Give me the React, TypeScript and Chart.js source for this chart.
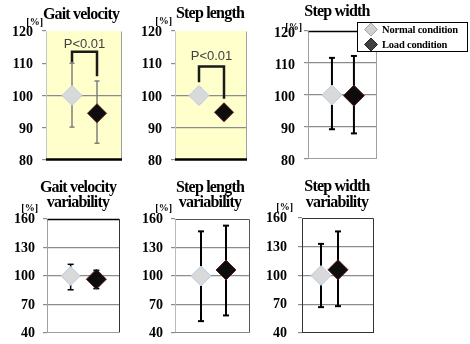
import React, { useEffect, useRef } from 'react';
import { Chart, registerables } from 'chart.js';
Chart.register(...registerables);

// ---------- data ----------
const conditionLabels = ['Normal condition', 'Load condition'];
const conditionX = [1, 2];
const panelTitles = [
  ['Gait velocity'],
  ['Step length'],
  ['Step width'],
  ['Gait velocity', 'variability'],
  ['Step length', 'variability'],
  ['Step width', 'variability'],
];
const unitLabel = '[%]';
const normalMean = [100, 100, 100, 100, 100, 100];
const normalUpper = [110, 102.2, 111.6, 112.3, 147, 133];
const normalLower = [90.2, 97.8, 89.3, 85.5, 52.5, 67];
const loadMean = [94.5, 94.8, 99.8, 96.6, 106.3, 106];
const loadUpper = [104.5, 96.3, 112.2, 106, 153, 146];
const loadLower = [85.2, 93.3, 88, 86.7, 58.5, 68];
const ticksMain = [80, 90, 100, 110, 120];
const ticksVariability = [40, 70, 100, 130, 160];
const pValueText = 'P<0.01';
const bracketTop = [113.6, 109];
const bracketLeftEnd = [110.2, 104.1];
const bracketRightEnd = [106, 99];
const pLabelValue = [115.8, 112.2];

// ---------- layout / style ----------
const W = 470;
const H = 344;
const AXIS_W = 40;
const SERIF = "'Liberation Serif', 'Times New Roman', serif";

type Frame = { top?: string; right?: string; bottom?: string; left?: string; bottomW?: number; topW?: number };
type PanelLayout = {
  area: [number, number, number, number];
  xRange: [number, number];
  titleX: number;
  titleY: number[];
  unit: [number, number];
  tickPad: number;
  labelOffset: number;
  bg?: string;
  grid: number[];
  frame: Frame;
  err: { color: string; width: number; cap: number };
  radius: [number, number];
  legend?: [number, number, number, number];
};

const LAYOUT: PanelLayout[] = [
  {
    area: [46, 31, 122, 160], xRange: [-0.04, 3.0], titleX: 81, titleY: [19], unit: [43, 22], tickPad: 9, labelOffset: 1.5,
    bg: '#FFFFCC', grid: [100],
    frame: { left: '#c8c8c8', right: '#a0a0a0', bottom: '#000000', bottomW: 2.5 },
    err: { color: '#7f7f7f', width: 1.5, cap: 2.5 }, radius: [10, 9.5],
  },
  {
    area: [175, 31, 247, 160], xRange: [0.04, 2.92], titleX: 210, titleY: [18], unit: [172, 21], tickPad: 9, labelOffset: 1.5,
    bg: '#FFFFCC', grid: [100, 90],
    frame: { left: '#c8c8c8', right: '#a0a0a0', bottom: '#000000', bottomW: 2.5 },
    err: { color: '#7f7f7f', width: 1.5, cap: 2.5 }, radius: [10, 9.5],
  },
  {
    area: [308, 31, 377, 159], xRange: [-0.09, 3.05], titleX: 337, titleY: [16], unit: [302, 27], tickPad: 9, labelOffset: 2,
    grid: [110, 100, 90],
    frame: { top: '#000000', topW: 1.5, left: '#a0a0a0', right: '#a0a0a0', bottom: '#a0a0a0' },
    err: { color: '#000000', width: 2, cap: 3 }, radius: [10, 10.5],
    legend: [357, 22, 468, 52],
  },
  {
    area: [47, 219, 120, 341], xRange: [0.08, 2.92], titleX: 78, titleY: [192, 207], unit: [38, 208], tickPad: 8, labelOffset: 0.5,
    grid: [130, 100, 70],
    frame: { top: '#000000', topW: 1.5, right: '#333333', left: '#a0a0a0', bottom: '#a0a0a0' },
    err: { color: '#000000', width: 1.5, cap: 3 }, radius: [9.5, 10],
  },
  {
    area: [175, 219, 250, 341], xRange: [-0.04, 2.96], titleX: 210, titleY: [192, 207], unit: [172, 208], tickPad: 8, labelOffset: 0.5,
    grid: [130, 100, 70],
    frame: { top: '#555555', right: '#555555', left: '#bbbbbb', bottom: '#888888' },
    err: { color: '#000000', width: 2, cap: 3 }, radius: [10, 10],
  },
  {
    area: [302, 218, 374, 341], xRange: [-0.12, 4.12], titleX: 337, titleY: [191, 207], unit: [293, 207], tickPad: 11, labelOffset: 0.5,
    grid: [130, 100, 70],
    frame: { top: '#333333', right: '#333333', left: '#333333', bottom: '#333333' },
    err: { color: '#000000', width: 2, cap: 3 }, radius: [10, 10],
  },
];

const NORMAL_FILL = '#d9d9d9';
const NORMAL_BORDER = '#b9cde5';
const LOAD_FILL = '#0d0d0d';
const LOAD_BORDER = '#5b1f1f';

const panelDecor = {
  id: 'panelDecor',
  beforeDraw(chart: any, _args: any, opts: any) {
    const { ctx, chartArea: a } = chart;
    if (opts.bg) {
      ctx.save();
      ctx.fillStyle = opts.bg;
      ctx.fillRect(a.left, a.top, a.right - a.left, a.bottom - a.top);
      ctx.restore();
    }
  },
  beforeDatasetsDraw(chart: any, _args: any, opts: any) {
    const { ctx, chartArea: a } = chart;
    const f: Frame = opts.frame || {};
    const line = (x1: number, y1: number, x2: number, y2: number, c?: string, w = 1) => {
      if (!c) return;
      ctx.save();
      ctx.strokeStyle = c;
      ctx.lineWidth = w;
      ctx.beginPath();
      ctx.moveTo(x1, y1);
      ctx.lineTo(x2, y2);
      ctx.stroke();
      ctx.restore();
    };
    const L = Math.round(a.left) + 0.5, R = Math.round(a.right) - 0.5;
    const T = Math.round(a.top) + 0.5, B = Math.round(a.bottom) - 0.5;
    line(L, T, L, B, f.left);
    line(R, T, R, B, f.right);
    line(L, T, R, T, f.top, f.topW || 1);
    line(L - 0.5, B, R + 0.5, B, f.bottom, f.bottomW || 1);
  },
  afterDatasetsDraw(chart: any, _args: any, opts: any) {
    if (opts.pLabel == null) return;
    const { ctx } = chart;
    const xs = chart.scales.x, ys = chart.scales.y;
    const cx = (xs.getPixelForValue(conditionX[0]) + xs.getPixelForValue(conditionX[1])) / 2;
    const cy = ys.getPixelForValue(opts.pLabel);
    ctx.save();
    ctx.font = "13px 'Liberation Sans', Arial, sans-serif";
    ctx.fillStyle = '#404040';
    ctx.textAlign = 'center';
    ctx.textBaseline = 'middle';
    ctx.fillText(pValueText, cx, cy);
    ctx.restore();
  },
  afterDraw(chart: any, _args: any, opts: any) {
    const { ctx } = chart;
    ctx.save();
    // title
    ctx.font = `bold 16px ${SERIF}`;
    (ctx as any).letterSpacing = '-0.8px';
    ctx.fillStyle = '#000';
    ctx.textAlign = 'center';
    ctx.textBaseline = 'alphabetic';
    (opts.title as string[]).forEach((t, k) => ctx.fillText(t, opts.titleX, opts.titleY[k]));
    // unit label
    (ctx as any).letterSpacing = '0px';
    ctx.font = `bold 10px ${SERIF}`;
    ctx.textAlign = 'right';
    ctx.textBaseline = 'middle';
    ctx.fillText(unitLabel, opts.unit[0], opts.unit[1]);
    ctx.restore();

    if (opts.legend) {
      const [x1, y1, x2, y2] = opts.legend;
      ctx.save();
      ctx.fillStyle = '#ffffff';
      ctx.fillRect(x1, y1, x2 - x1, y2 - y1);
      ctx.strokeStyle = '#000';
      ctx.lineWidth = 1;
      ctx.strokeRect(x1 + 0.5, y1 + 0.5, x2 - x1 - 1, y2 - y1 - 1);
      const ds = chart.data.datasets;
      const rowH = (y2 - y1) / 2;
      const fills = ['#d0d0d0', '#404040'];
      const borders = ['#a6a6a6', '#262626'];
      [0, 1].forEach((k) => {
        const cy = y1 + rowH * (k + 0.5);
        const mx = x1 + 14;
        const r = 6.5;
        ctx.beginPath();
        ctx.moveTo(mx, cy - r);
        ctx.lineTo(mx + r, cy);
        ctx.lineTo(mx, cy + r);
        ctx.lineTo(mx - r, cy);
        ctx.closePath();
        ctx.fillStyle = fills[k];
        ctx.fill();
        ctx.strokeStyle = borders[k];
        ctx.stroke();
        ctx.font = `bold 10.5px ${SERIF}`;
        (ctx as any).letterSpacing = '-0.2px';
        ctx.fillStyle = '#000';
        ctx.textAlign = 'left';
        ctx.textBaseline = 'middle';
        ctx.fillText(ds[k].label, x1 + 25, cy + 0.5);
      });
      ctx.restore();
    }
  },
};

function makeConfig(i: number): any {
  const P = LAYOUT[i];
  const [l, t, r, b] = P.area;
  const ticks = i < 3 ? ticksMain : ticksVariability;
  const datasets: any[] = [
    {
      label: conditionLabels[0],
      data: [{ x: conditionX[0], y: normalMean[i] }],
      pointStyle: 'rectRot',
      pointRadius: P.radius[0],
      pointBackgroundColor: NORMAL_FILL,
      pointBorderColor: NORMAL_BORDER,
      pointBorderWidth: 1,
      backgroundColor: NORMAL_FILL,
      borderColor: NORMAL_BORDER,
    },
    {
      label: conditionLabels[1],
      data: [{ x: conditionX[1], y: loadMean[i] }],
      pointStyle: 'rectRot',
      pointRadius: P.radius[1],
      pointBackgroundColor: LOAD_FILL,
      pointBorderColor: LOAD_BORDER,
      pointBorderWidth: 1,
      backgroundColor: LOAD_FILL,
      borderColor: LOAD_BORDER,
    },
    {
      label: 'normal-error',
      data: [
        { x: conditionX[0], y: normalLower[i] },
        { x: conditionX[0], y: normalUpper[i] },
      ],
      showLine: true,
      borderColor: P.err.color,
      borderWidth: P.err.width,
      pointStyle: 'line',
      pointRadius: P.err.cap,
      pointBorderColor: P.err.color,
      pointBorderWidth: P.err.width,
    },
    {
      label: 'load-error',
      data: [
        { x: conditionX[1], y: loadLower[i] },
        { x: conditionX[1], y: loadUpper[i] },
      ],
      showLine: true,
      borderColor: P.err.color,
      borderWidth: P.err.width,
      pointStyle: 'line',
      pointRadius: P.err.cap,
      pointBorderColor: P.err.color,
      pointBorderWidth: P.err.width,
    },
  ];
  if (i < bracketTop.length) {
    datasets.push({
      label: 'bracket',
      data: [
        { x: conditionX[0], y: bracketLeftEnd[i] },
        { x: conditionX[0], y: bracketTop[i] },
        { x: conditionX[1], y: bracketTop[i] },
        { x: conditionX[1], y: bracketRightEnd[i] },
      ],
      showLine: true,
      pointRadius: 0,
      borderColor: '#1a1a1a',
      borderWidth: 2.5,
      borderJoinStyle: 'miter',
      borderCapStyle: 'butt',
    });
  }
  return {
    type: 'scatter',
    data: { datasets },
    options: {
      responsive: false,
      animation: false,
      events: [],
      layout: { padding: { left: l - AXIS_W, top: t, right: W - r, bottom: H - b } },
      plugins: {
        legend: { display: false },
        tooltip: { enabled: false },
        panelDecor: {
          bg: P.bg,
          frame: P.frame,
          title: panelTitles[i],
          titleX: P.titleX,
          titleY: P.titleY,
          unit: P.unit,
          legend: P.legend,
          pLabel: i < pLabelValue.length ? pLabelValue[i] : null,
        },
      },
      scales: {
        x: { type: 'linear', display: false, min: P.xRange[0], max: P.xRange[1] },
        y: {
          type: 'linear',
          min: ticks[0],
          max: ticks[ticks.length - 1],
          afterBuildTicks: (s: any) => {
            s.ticks = ticks.map((v) => ({ value: v }));
          },
          afterFit: (s: any) => {
            s.width = AXIS_W;
            s.paddingTop = 0;
            s.paddingBottom = 0;
          },
          border: { display: false },
          grid: {
            color: (c: any) => (c.tick && P.grid.includes(c.tick.value) ? '#8c8c8c' : 'rgba(0,0,0,0)'),
            tickColor: '#8c8c8c',
            lineWidth: 1.2,
            drawTicks: true,
            tickLength: 4,
          },
          ticks: {
            padding: P.tickPad,
            labelOffset: P.labelOffset,
            color: '#000',
            font: { family: SERIF, weight: 'bold', size: 14 },
            callback: (v: any) => String(v),
          },
        },
      },
    },
    plugins: [panelDecor],
  };
}

export default function App() {
  const refs = useRef<(HTMLCanvasElement | null)[]>([]);
  useEffect(() => {
    const charts = refs.current.map((c, i) => (c ? new Chart(c, makeConfig(i)) : null));
    return () => {
      charts.forEach((ch) => ch && ch.destroy());
    };
  }, []);
  return (
    <div
      style={{
        position: 'absolute',
        left: 0,
        top: 0,
        width: W,
        height: H,
        background: '#ffffff',
        overflow: 'hidden',
      }}
    >
      {panelTitles.map((_, i) => (
        <canvas
          key={i}
          ref={(el) => {
            refs.current[i] = el;
          }}
          width={W}
          height={H}
          style={{ position: 'absolute', left: 0, top: 0, width: W, height: H }}
        />
      ))}
    </div>
  );
}
